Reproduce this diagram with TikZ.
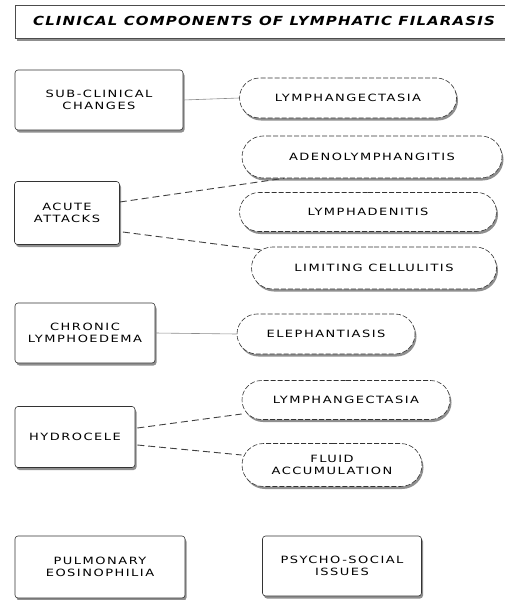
\documentclass[tikz,border=0pt]{standalone}
\usepackage{fontspec}
\setmainfont{DejaVu Sans}
\newfontfamily\lblfont[LetterSpace=15,FakeStretch=1.3]{DejaVu Sans}
\newfontfamily\ttlfont[LetterSpace=9,FakeStretch=1.2]{DejaVu Sans}
\usetikzlibrary{shapes.misc,shadows}
\begin{document}
\begin{tikzpicture}[x=1pt,y=-1pt,
  shad/.style={drop shadow={shadow xshift=1.5pt,shadow yshift=-2.5pt,fill=black!55,opacity=0.8}},
  sqbox/.style={draw=black!80,line width=0.6pt,rounded corners=3pt,fill=white,shad,align=center,
    font=\lblfont\fontsize{10}{12}\selectfont,inner sep=0pt},
  pill/.style={rounded rectangle,draw=black!80,line width=0.6pt,dash pattern=on 5pt off 2pt,fill=white,shad,align=center,
    font=\lblfont\fontsize{10}{12}\selectfont,inner sep=0pt},
  solidlink/.style={draw=black!45,line width=0.6pt},
  dashlink/.style={draw=black!75,line width=0.9pt,dash pattern=on 7pt off 4pt}]
\useasboundingbox (0,0) rectangle (505,600);
% title
\node[draw=black!70,fill=white,shad,minimum width=500pt,minimum height=33pt,anchor=north west,inner sep=0pt] (title) at (15,5) {};
\node[font=\ttlfont\bfseries\itshape\fontsize{12.5}{14}\selectfont] (ttl) at (264,21) {CLINICAL COMPONENTS OF LYMPHATIC FILARASIS};
% left boxes
\node[sqbox,minimum width=168pt,minimum height=60pt] (sub) at (99,100) {SUB-CLINICAL\\CHANGES};
\node[sqbox,minimum width=105pt,minimum height=63pt] (acute) at (67,213) {ACUTE\\ATTACKS};
\node[sqbox,minimum width=140pt,minimum height=60pt] (chron) at (85,333) {CHRONIC\\LYMPHOEDEMA};
\node[sqbox,minimum width=120pt,minimum height=61pt] (hyd) at (75,437) {HYDROCELE};
\node[sqbox,minimum width=170pt,minimum height=62pt] (pulm) at (100,567) {PULMONARY\\EOSINOPHILIA};
\node[sqbox,minimum width=159pt,minimum height=60pt] (psy) at (342,566) {PSYCHO-SOCIAL\\ISSUES};
% pills
\node[pill,minimum width=217pt,minimum height=40pt] (lym1) at (348,98) {LYMPHANGECTASIA};
\node[pill,minimum width=260pt,minimum height=42pt] (adeno) at (372,157) {ADENOLYMPHANGITIS};
\node[pill,minimum width=257pt,minimum height=39pt] (lad) at (368,212) {LYMPHADENITIS};
\node[pill,minimum width=245pt,minimum height=42pt] (cell) at (374,268) {LIMITING CELLULITIS};
\node[pill,minimum width=178pt,minimum height=40pt] (ele) at (326,334) {ELEPHANTIASIS};
\node[pill,minimum width=208pt,minimum height=39pt] (lym2) at (346,400) {LYMPHANGECTASIA};
\node[pill,minimum width=180pt,minimum height=43pt] (fluid) at (332,465) {FLUID\\ACCUMULATION};
% links
\draw[solidlink] (sub.east) -- (lym1.west);
\draw[solidlink] (chron.east) -- (ele.west);
\draw[dashlink] ([yshift=11pt]acute.east) -- ([xshift=21pt]adeno.south west);
\draw[dashlink] ([yshift=-19pt,xshift=3pt]acute.east) -- ([xshift=11pt,yshift=18pt]cell.west);
\draw[dashlink] ([yshift=9pt,xshift=2pt]hyd.east) -- ([yshift=-14pt]lym2.west);
\draw[dashlink] ([yshift=-8pt,xshift=2pt]hyd.east) -- ([yshift=10pt]fluid.west);
\end{tikzpicture}
\end{document}
